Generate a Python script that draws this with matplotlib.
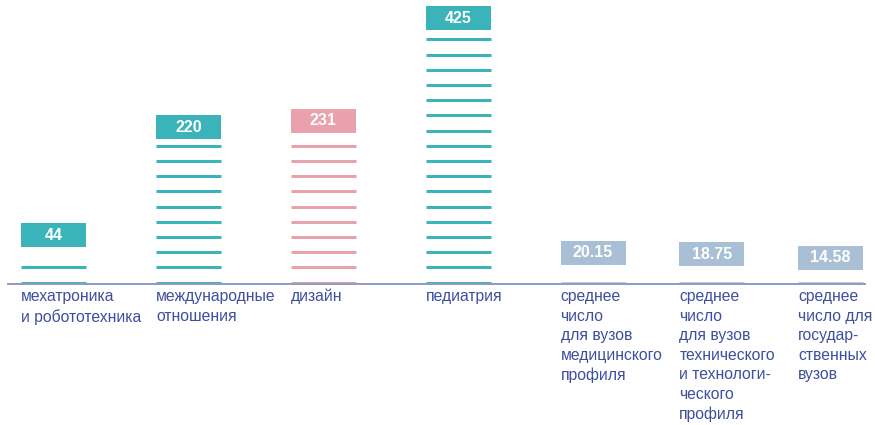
import numpy as np
import matplotlib
matplotlib.use("Agg")
import matplotlib.pyplot as plt
import matplotlib.transforms as mtransforms

plt.rcParams["font.family"] = ["Liberation Sans", "DejaVu Sans"]

# Data
categories = [
    "мехатроника\nи робототехника",
    "международные\nотношения",
    "дизайн",
    "педиатрия",
    "среднее\nчисло\nдля вузов\nмедицинского\nпрофиля",
    "среднее\nчисло\nдля вузов\nтехнического\nи технологи-\nческого\nпрофиля",
    "среднее\nчисло для\nгосудар-\nственных\nвузов",
]
values = [44, 220, 231, 425, 20.15, 18.75, 14.58]
groups = ["prog", "prog", "design", "prog", "avg", "avg", "avg"]

# Styles
box_colors = {"prog": "#3bb4b9", "design": "#e9a1ac", "avg": "#a9bfd5"}
stripe_colors = {"prog": "#3bb4b9", "design": "#e9a1ac", "avg": "#bccde0"}
text_color = "#3d4f9f"
axis_color = "#8f9cc6"

DPI = 100
W, H = 875, 425
PX = 1.48           # pixels per transformed unit
POW = 0.85          # power of the value scale
BASE_PX = 141       # baseline height above figure bottom, px


def fwd(v):
    v = np.asarray(v, dtype=float)
    return np.sign(v) * np.abs(v) ** POW


def inv(t):
    t = np.asarray(t, dtype=float)
    return np.sign(t) * np.abs(t) ** (1.0 / POW)


fig = plt.figure(figsize=(W / DPI, H / DPI), dpi=DPI)
ax = fig.add_axes([0, 0, 1, 1])
ax.set_yscale("function", functions=(fwd, inv))
ax.set_ylim(inv(-BASE_PX / PX), inv((H - BASE_PX) / PX))

# x layout: programmes spaced 1 apart, averages a bit tighter
x = np.concatenate([np.arange(4), 4 + 0.88 * np.arange(3)])
unit_px = 134.9
ax.set_xlim(-53.5 / unit_px, (W - 53.5) / unit_px)
bar_w = 65 / unit_px

stripe_period = 15.2 / PX
stripe_off = 1.5 / PX
stripe_lw = 3 * 72 / DPI
top_gap = 6 / PX
box_h = 24 / PX

for xi, v, g, lab in zip(x, values, groups, categories):
    top_t = float(fwd(v))
    n = int(np.floor((top_t - top_gap - stripe_off) / stripe_period)) + 1
    n = max(n, 1)
    ys = inv(stripe_off + stripe_period * np.arange(n))
    ax.hlines(ys, xi - bar_w / 2, xi + bar_w / 2, colors=stripe_colors[g],
              linewidth=stripe_lw, zorder=2)
    box_top = float(inv(top_t + box_h))
    ax.bar(xi, box_top - v, bottom=v, width=bar_w, color=box_colors[g],
           linewidth=0, zorder=3)
    ax.text(xi, float(inv(top_t + box_h / 2)), f"{v:g}", ha="center",
            va="center", color="white", fontsize=11.5, fontweight="bold",
            zorder=4)
    tr = mtransforms.offset_copy(ax.transData, fig=fig, x=0, y=-5,
                                 units="dots")
    ax.text(xi - bar_w / 2, 0, lab, ha="left", va="top", color=text_color,
            fontsize=11.3, linespacing=1.38, transform=tr)

ax.axhline(0, xmin=8 / W, xmax=865 / W, color=axis_color,
           linewidth=2 * 72 / DPI, zorder=5)

ax.axis("off")
fig.savefig("out.png", dpi=DPI)
